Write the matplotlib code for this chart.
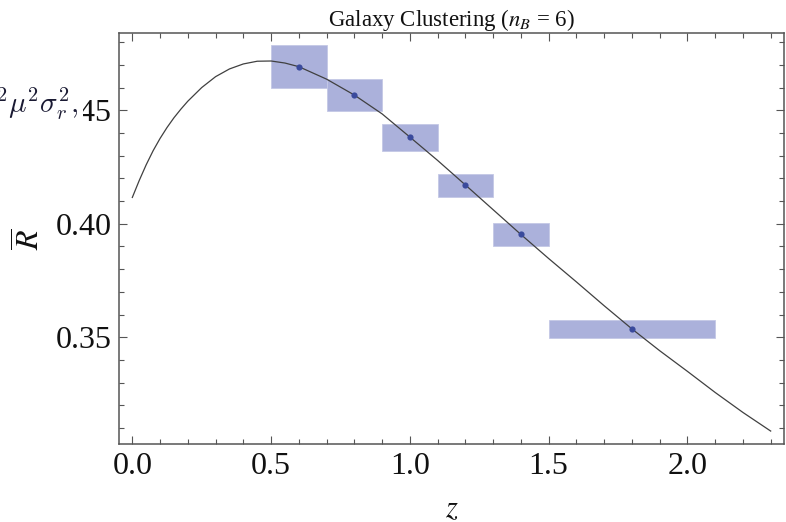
import numpy as np
import matplotlib
matplotlib.use("Agg")
from matplotlib import pyplot as plt
from matplotlib.patches import Rectangle
from matplotlib.ticker import MultipleLocator

plt.rcParams['font.family'] = 'Liberation Serif'
plt.rcParams['mathtext.fontset'] = 'stix'

# theory curve R(z)
z_curve = [0.000, 0.025, 0.050, 0.075, 0.100, 0.125, 0.150, 0.175, 0.200,
           0.250, 0.300, 0.350, 0.400, 0.450, 0.500, 0.550, 0.600, 0.700,
           0.800, 0.900, 1.000, 1.100, 1.200, 1.300, 1.400, 1.500, 1.600,
           1.700, 1.800, 1.900, 2.000, 2.100, 2.200, 2.300]
R_curve = [0.4116, 0.4191, 0.4260, 0.4322, 0.4376, 0.4424, 0.4467, 0.4505,
           0.4540, 0.4600, 0.4648, 0.4682, 0.4704, 0.4716, 0.4717, 0.4708,
           0.4692, 0.4637, 0.4567, 0.4484, 0.4382, 0.4279, 0.4171, 0.4062,
           0.3953, 0.3847, 0.3744, 0.3639, 0.3537, 0.3441, 0.3350, 0.3257,
           0.3169, 0.3087]

# redshift bins and forecast errors
z_lo = [0.5, 0.7, 0.9, 1.1, 1.3, 1.5]
z_hi = [0.7, 0.9, 1.1, 1.3, 1.5, 2.1]
z_mid = [0.6, 0.8, 1.0, 1.2, 1.4, 1.8]
R_mid = [0.4692, 0.4567, 0.4382, 0.4171, 0.3953, 0.3537]
R_lo = [0.4600, 0.4498, 0.4322, 0.4117, 0.3900, 0.3496]
R_hi = [0.4788, 0.4637, 0.4438, 0.4220, 0.4004, 0.3576]

cor_frame = '#555555'
cor_caixa = '#abb1db'
cor_ponto = '#3a4a9c'

fig = plt.figure(figsize=(7.86, 5.22), dpi=100)
ax = fig.add_axes([119/786, 1-444/522, 665/786, 410.7/522])

# caixas de erro
for i in range(len(z_lo)):
    ax.add_patch(Rectangle((z_lo[i], R_lo[i]), z_hi[i]-z_lo[i], R_hi[i]-R_lo[i],
                           facecolor=cor_caixa, edgecolor='#c4c8e6', linewidth=0.6, zorder=1))
ax.plot(z_curve, R_curve, color='#404040', linewidth=0.9, zorder=2,
        solid_joinstyle='round')
ax.scatter(z_mid, R_mid, s=20, color=cor_ponto, zorder=3, linewidths=0)

ax.set_xlim(-0.048, 2.348)
ax.set_ylim(0.303, 0.4839)

ax.xaxis.set_major_locator(MultipleLocator(0.5))
ax.xaxis.set_minor_locator(MultipleLocator(0.1))
ax.yaxis.set_major_locator(MultipleLocator(0.05))
ax.yaxis.set_minor_locator(MultipleLocator(0.01))
ax.xaxis.set_major_formatter(lambda v, p: f"{v:.1f}")
ax.yaxis.set_major_formatter(lambda v, p: f"{v:.2f}")

ax.tick_params(which='both', direction='in', top=True, right=True, color=cor_frame,
               width=0.8, labelsize=23, labelcolor='#111111')
ax.tick_params(which='major', length=6)
ax.tick_params(which='minor', length=3.5)
ax.tick_params(axis='x', pad=6)
ax.tick_params(axis='y', pad=5)
for s in ax.spines.values():
    s.set_color(cor_frame)
    s.set_linewidth(1.1)

ax.set_title(r"Galaxy Clustering ($n_B$ = 6)", fontsize=16.5, pad=4, color='#111111')
ax.set_xlabel(r"$z$", fontsize=22, color='#111111', va='center')
ax.xaxis.set_label_coords(0.5, -0.16)
ax.set_ylabel(r"$\overline{R}$", fontsize=23, color='#111111', ha='center', va='center')
ax.yaxis.set_label_coords(-0.134, 0.5)

# pedaco de equacao que ficou por cima do rotulo 0.45
fig.text(-5/786, 1-113/522, r"$^2\mu^2\sigma_r^2,$", fontsize=21, color='#1a1a33',
         math_fontfamily='cm', ha='left', va='baseline',
         bbox=dict(facecolor='white', edgecolor='none', pad=3))

plt.savefig("out.png", dpi=100)
plt.close()
